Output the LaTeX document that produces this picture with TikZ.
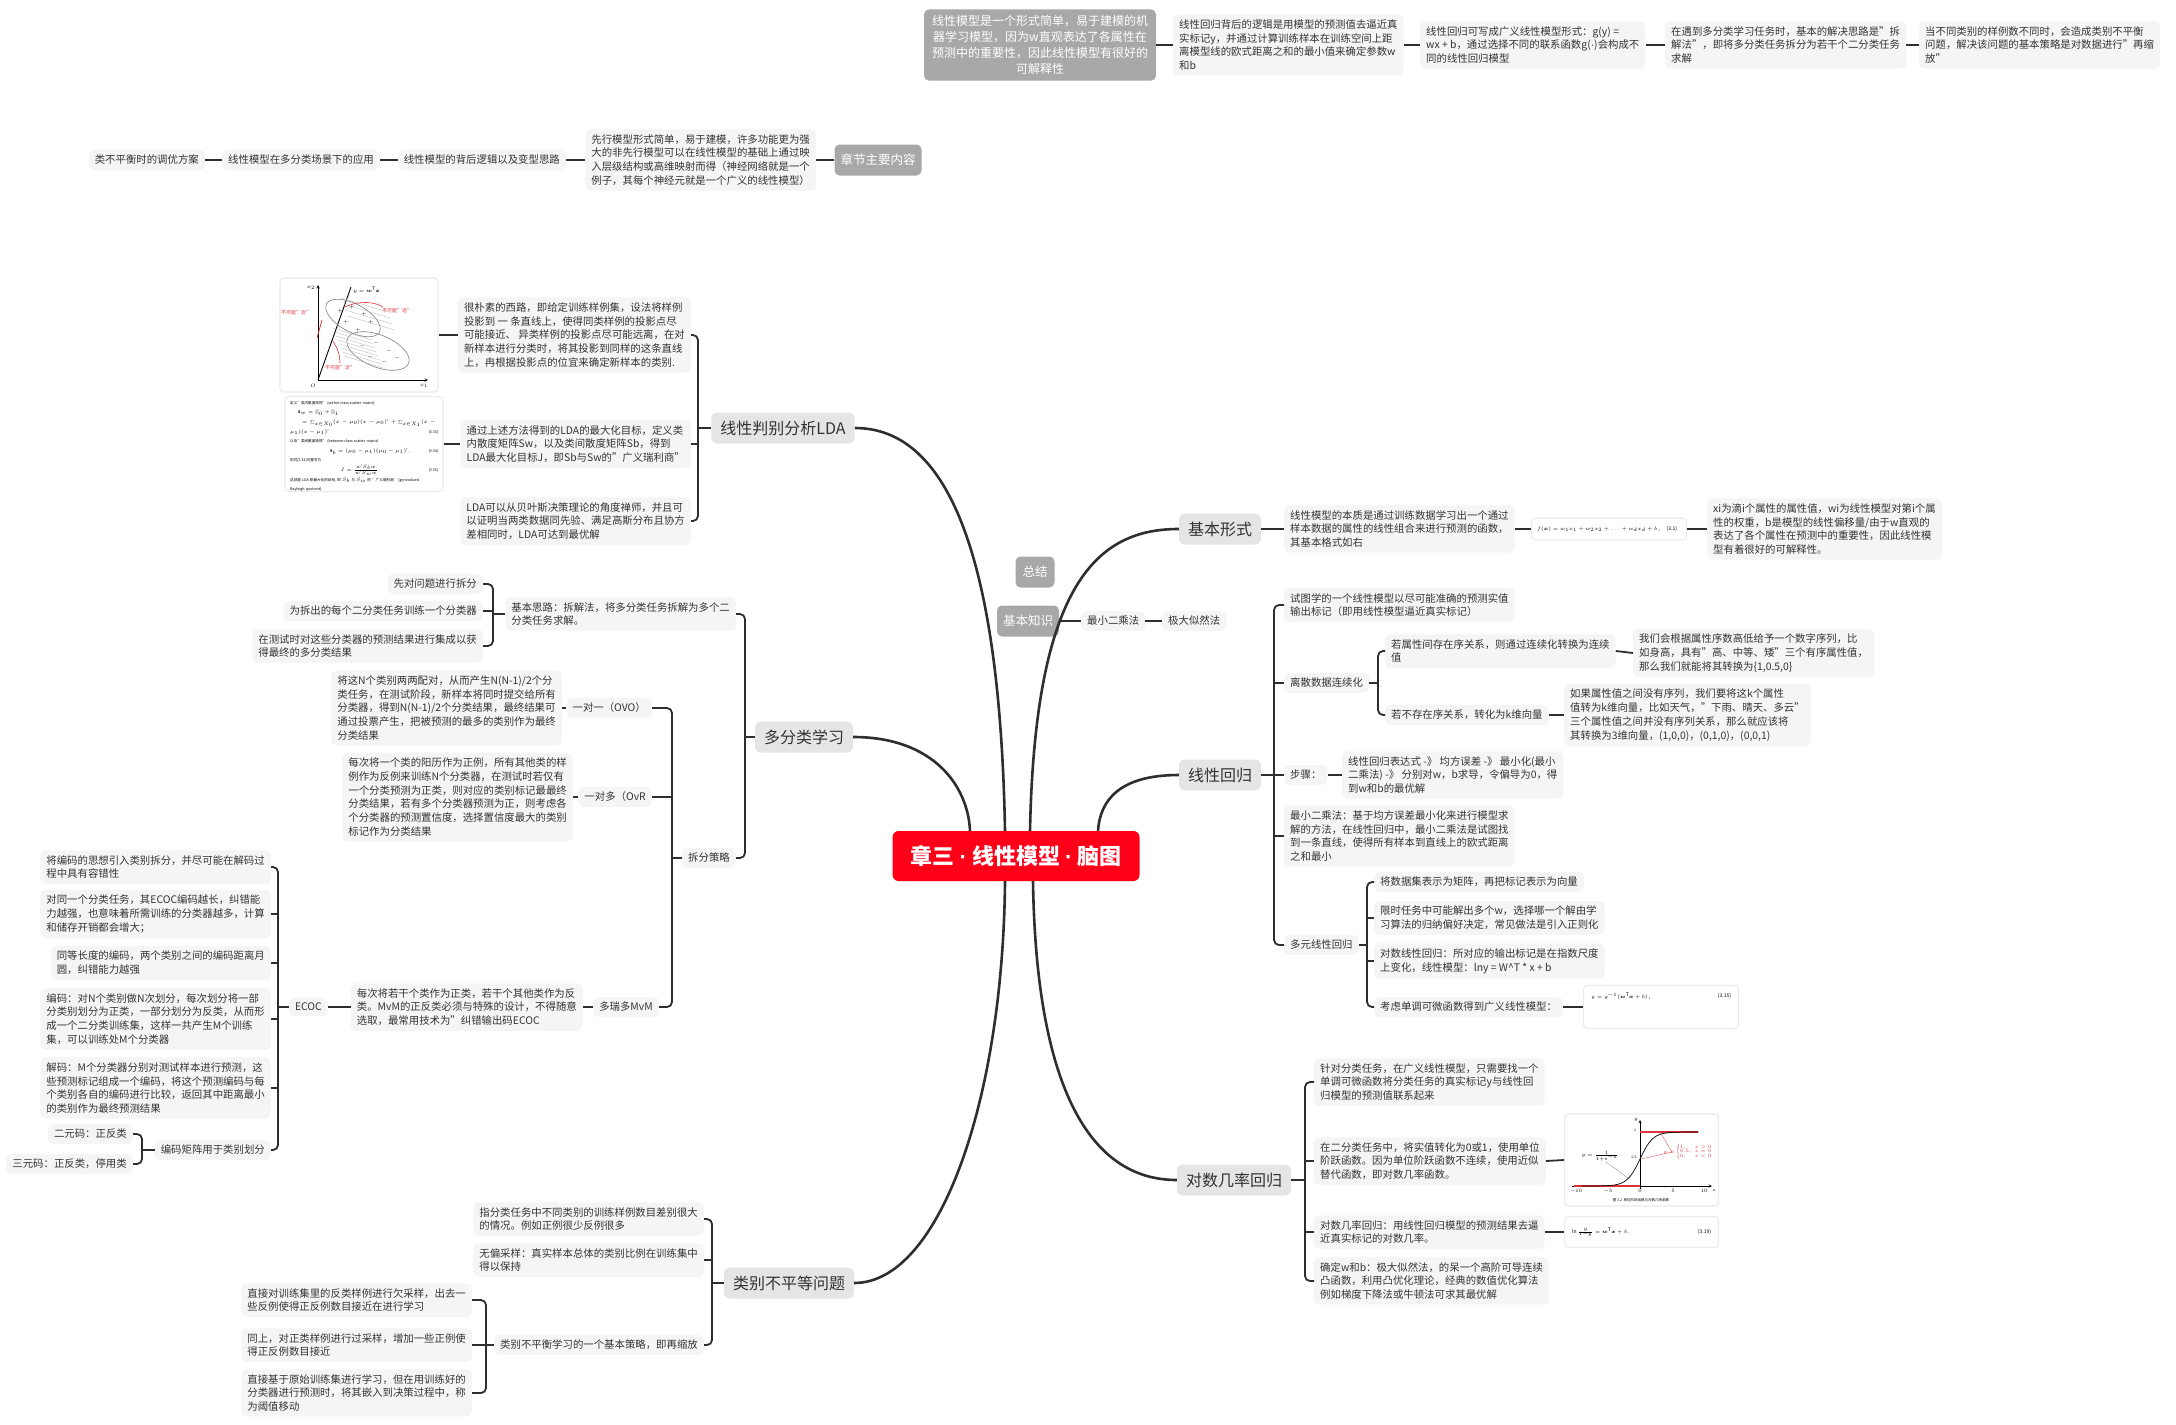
\documentclass[tikz,border=0pt]{standalone}
\usepackage{amsmath}
\usepackage{fontspec}
\setmainfont{Noto Sans CJK SC}
\newfontfamily\latinf{Liberation Sans}
\usetikzlibrary{calc}
\definecolor{linec}{HTML}{2E2E2E}
\definecolor{txt}{HTML}{333333}
\definecolor{subfill}{HTML}{F5F5F5}
\definecolor{mainfill}{HTML}{E5E5E5}
\definecolor{grayfill}{HTML}{A8A8A8}
\definecolor{redc}{HTML}{FF0019}
\definecolor{imgline}{HTML}{EBEBEB}
\definecolor{figred}{HTML}{E0323C}
\tikzset{
  sub/.style={fill=subfill, rounded corners=5pt, align=left, text=txt, font=\fontsize{10.4}{13.8}\selectfont, inner xsep=6pt, inner ysep=5pt},
  mainb/.style={fill=mainfill, rounded corners=6pt, text=txt, font=\fontsize{16}{19}\selectfont, inner xsep=9pt, minimum height=31pt},
  grayb/.style={fill=grayfill, text=white, rounded corners=5pt, font=\fontsize{12.5}{16}\selectfont, inner xsep=6pt, minimum height=31pt},
  imgbox/.style={fill=white, draw=imgline, line width=1.2pt, rounded corners=4pt},
  link/.style={draw=linec, line width=1.8pt},
  brk/.style={draw=linec, line width=1.8pt, rounded corners=5pt},
  branch/.style={draw=linec, line width=2.6pt},
  tinyf/.style={font=\fontsize{5}{6}\selectfont, inner sep=0pt, text=black},
}
\begin{document}
\begin{tikzpicture}[x=1pt,y=-1pt]
\useasboundingbox[fill=white] (0,0) rectangle (2176,1424);

% ---------- root ----------
\node[fill=redc, rounded corners=6pt, text=white, font=\fontsize{22}{26}\selectfont\bfseries, minimum width=247pt, minimum height=50pt] (root) at (1016,856) {章三 {\latinf\bfseries ·} 线性模型 {\latinf\bfseries ·} 脑图};

% ---------- floating ----------
\node[grayb, minimum width=39pt] (zj) at (1035,572) {总结};
\node[grayb] (jbzs) at (1028,621) {基本知识};
\node[sub, anchor=west] (zxec) at (1081,621) {最小二乘法};
\node[sub, anchor=west] (jdsr) at (1162,621) {极大似然法};
\draw[link] (jbzs.east) -- (zxec.west);
\draw[link] (zxec.east) -- (jdsr.west);

% ---------- top row ----------
\node[grayb, align=center, font=\fontsize{12}{16}\selectfont, inner xsep=8pt, inner ysep=6pt] (tA) at (1040,45) {线性模型是一个形式简单，易于建模的机\\器学习模型，因为w直观表达了各属性在\\预测中的重要性，因此线性模型有很好的\\可解释性};
\node[sub, anchor=west] (tB) at (1173,45) {线性回归背后的逻辑是用模型的预测值去逼近真\\实标记y，并通过计算训练样本在训练空间上距\\离模型线的欧式距离之和的最小值来确定参数w\\和b};
\node[sub, anchor=west] (tC) at (1420,45) {线性回归可写成广义线性模型形式：g(y) =\\wx + b，通过选择不同的联系函数g({\latinf ·})会构成不\\同的线性回归模型};
\node[sub, anchor=west] (tD) at (1665,45) {在遇到多分类学习任务时，基本的解决思路是"拆\\解法"，即将多分类任务拆分为若干个二分类任务\\求解};
\node[sub, anchor=west] (tE) at (1919,45) {当不同类别的样例数不同时，会造成类别不平衡\\问题，解决该问题的基本策略是对数据进行"再缩\\放"};
\draw[link] (tA.east) -- (tB.west);
\draw[link] (tB.east) -- (tC.west);
\draw[link] (tC.east) -- (tD.west);
\draw[link] (tD.east) -- (tE.west);

% ---------- second row ----------
\node[grayb] (zjnr) at (878,160) {章节主要内容};
\node[sub, anchor=east] (r2F) at (816,160) {先行模型形式简单，易于建模，许多功能更为强\\大的非先行模型可以在线性模型的基础上通过映\\入层级结构或高维映射而得（神经网络就是一个\\例子，其每个神经元就是一个广义的线性模型）};
\node[sub, anchor=east] (r2G) at (566,160) {线性模型的背后逻辑以及变型思路};
\node[sub, anchor=east] (r2H) at (380,160) {线性模型在多分类场景下的应用};
\node[sub, anchor=east] (r2I) at (205,160) {类不平衡时的调优方案};
\draw[link] (zjnr.west) -- (r2F.east);
\draw[link] (r2F.west) -- (r2G.east);
\draw[link] (r2G.west) -- (r2H.east);
\draw[link] (r2H.west) -- (r2I.east);

% ---------- LDA ----------
\node[mainb] (lda) at (783,428) {线性判别分析LDA};
\coordinate (bL) at (698,0);
\node[sub, anchor=east] (L1) at (691,335) {很朴素的西路，即给定训练样例集，设法将样例\\投影到 一 条直线上，使得同类样例的投影点尽\\可能接近、 异类样例的投影点尽可能远离，在对\\新样本进行分类时，将其投影到同样的这条直线\\上，冉根据投影点的位宜来确定新样本的类别.};
\node[sub, anchor=east] (L2) at (691,444) {通过上述方法得到的LDA的最大化目标，定义类\\内散度矩阵Sw，以及类间散度矩阵Sb，得到\\LDA最大化目标J，即Sb与Sw的"广义瑞利商"};
\node[sub, anchor=east] (L3) at (691,521) {LDA可以从贝叶斯决策理论的角度禅师，并且可\\以证明当两类数据同先验、满足高斯分布且协方\\差相同时，LDA可达到最优解};
\node[imgbox, minimum width=158pt, minimum height=114pt] (img1) at (359,335) {};
\node[imgbox, minimum width=158pt, minimum height=95pt] (img2) at (364,444) {};
\draw[link] (img1.east) -- (L1.west);
\draw[link] (img2.east) -- (L2.west);
\draw[brk] (L1.east) -- (L1.east -| bL) -- (L3.east -| bL) -- (L3.east);
\draw[link] (L2.east) -- (L2.east -| bL);
\draw[link] (lda.west) -- (lda.west -| bL);

% image 1 : LDA sketch
\begin{scope}[line width=0.6pt]
\draw[->, >=stealth] (318,380) -- (318,285);
\draw[->, >=stealth] (318,380) -- (428,380);
\node[tinyf] at (311,288) {$x_2$};
\node[tinyf] at (424,386) {$x_1$};
\node[tinyf] at (313,386) {$O$};
\draw[line width=0.9pt] (318,380) -- (351,287);
\node[tinyf, anchor=west] at (353,290) {$y=\boldsymbol{w}^{\mathrm T}\boldsymbol{x}$};
\draw[gray, rotate around={-28:(353,318)}] (353,318) ellipse [x radius=30pt, y radius=14pt];
\draw[gray, rotate around={-22:(378,351)}] (378,351) ellipse [x radius=33pt, y radius=16pt];
\foreach \k in {0,...,7}
  \draw[gray!60, line width=0.3pt] ({333+\k*1.6},{328+\k*4}) -- ({372+\k*1.6},{340+\k*4});
\foreach \k in {0,...,3}
  \draw[gray!60, line width=0.3pt] ({341+\k*2.2},{298+\k*6}) -- ({388+\k*2.2},{312+\k*6});
\foreach \p in {(340,311),(352,307),(364,314),(346,322),(371,322),(358,330)}
  \node[tinyf] at \p {$+$};
\foreach \p in {(362,346),(376,343),(389,351),(370,357),(384,362),(397,358)}
  \node[tinyf] at \p {$-$};
\draw[figred, line width=0.8pt] (317,338) -- (322,320);
\draw[figred, line width=0.6pt] (345,307) .. controls (360,300) and (375,302) .. (383,307);
\draw[figred, line width=0.6pt] (332,340) .. controls (338,348) and (340,356) .. (340,363);
\node[tinyf, text=figred] at (296,313) {不可能"近"};
\node[tinyf, text=figred] at (397,311) {不可能"远"};
\node[tinyf, text=figred] at (340,368) {不可能"近"};
\end{scope}

% image 2 : formulas
\node[tinyf, font=\fontsize{3.6}{9.6}\selectfont, anchor=north west, align=left, text width=148pt] at (290,401) {定义"类内散度矩阵" (within-class scatter matrix)\\
\hspace*{8pt}$\mathbf{S}_w=\mathbf{\Sigma}_0+\mathbf{\Sigma}_1$\\
\hspace*{12pt}$=\sum_{x\in X_0}(x-\mu_0)(x-\mu_0)^{\mathrm T}+\sum_{x\in X_1}(x-\mu_1)(x-\mu_1)^{\mathrm T}$\hfill(3.33)\\
以及"类间散度矩阵" (between-class scatter matrix)\\
\hspace*{40pt}$\mathbf{S}_b=(\mu_0-\mu_1)(\mu_0-\mu_1)^{\mathrm T}$ ,\hfill(3.34)\\
则式(3.32)可重写为\\
\hspace*{50pt}$J=\frac{w^{\mathrm T}S_bw}{w^{\mathrm T}S_ww}$ .\hfill(3.35)\\
这就是 LDA 欲最大化的目标, 即 $S_b$ 与 $S_w$ 的 "广义瑞利商" (generalized\\
Rayleigh quotient).};

% ---------- multi-class ----------
\node[mainb] (mc) at (804,737) {多分类学习};
\coordinate (bM) at (745,0);
\node[sub, anchor=east] (jbsl) at (736,614) {基本思路：拆解法，将多分类任务拆解为多个二\\分类任务求解。};
\node[sub, anchor=east] (cfcl) at (736,858) {拆分策略};
\draw[brk] (jbsl.east) -- (jbsl.east -| bM) -- (cfcl.east -| bM) -- (cfcl.east);
\draw[link] (mc.west) -- (mc.west -| bM);

\coordinate (bJ) at (493,0);
\node[sub, anchor=east] (j1) at (483,584) {先对问题进行拆分};
\node[sub, anchor=east] (j2) at (483,611) {为拆出的每个二分类任务训练一个分类器};
\node[sub, anchor=east] (j3) at (483,646) {在测试时对这些分类器的预测结果进行集成以获\\得最终的多分类结果};
\draw[brk] (j1.east) -- (j1.east -| bJ) -- (j3.east -| bJ) -- (j3.east);
\draw[link] (j2.east) -- (j2.east -| bJ);
\draw[link] (jbsl.west) -- (jbsl.west -| bJ);

\coordinate (bC) at (672,0);
\node[sub, anchor=east] (ovo) at (652,708) {一对一（OVO）};
\node[sub, anchor=east] (ovr) at (652,797) {一对多（OvR};
\node[sub, anchor=east] (mvm) at (659,1007) {多瑞多MvM};
\draw[brk] (ovo.east) -- (ovo.east -| bC) -- (mvm.east -| bC) -- (mvm.east);
\draw[link] (ovr.east) -- (ovr.east -| bC);
\draw[link] (cfcl.west) -- (cfcl.west -| bC);

\node[sub, anchor=east] (ovot) at (562,708) {将这N个类别两两配对，从而产生N(N-1)/2个分\\类任务，在测试阶段，新样本将同时提交给所有\\分类器，得到N(N-1)/2个分类结果，最终结果可\\通过投票产生，把被预测的最多的类别作为最终\\分类结果};
\node[sub, anchor=east] (ovrt) at (573,797) {每次将一个类的阳历作为正例，所有其他类的样\\例作为反例来训练N个分类器，在测试时若仅有\\一个分类预测为正类，则对应的类别标记最最终\\分类结果，若有多个分类器预测为正，则考虑各\\个分类器的预测置信度，选择置信度最大的类别\\标记作为分类结果};
\node[sub, anchor=east] (mvmt) at (583,1007) {每次将若干个类作为正类，若干个其他类作为反\\类。MvM的正反类必须与特殊的设计，不得随意\\选取，最常用技术为"纠错输出码ECOC};
\draw[link] (ovo.west) -- (ovot.east);
\draw[link] (ovr.west) -- (ovrt.east);
\draw[link] (mvm.west) -- (mvmt.east);

\node[sub, anchor=east] (ecoc) at (328,1007) {ECOC};
\draw[link] (mvmt.west) -- (ecoc.east);
\coordinate (bE) at (278,0);
\node[sub, anchor=east] (E1) at (271,867) {将编码的思想引入类别拆分，并尽可能在解码过\\程中具有容错性};
\node[sub, anchor=east] (E2) at (271,914) {对同一个分类任务，其ECOC编码越长，纠错能\\力越强，也意味着所需训练的分类器越多，计算\\和储存开销都会增大；};
\node[sub, anchor=east] (E3) at (271,963) {同等长度的编码，两个类别之间的编码距离月\\圆，纠错能力越强};
\node[sub, anchor=east] (E4) at (271,1019) {编码：对N个类别做N次划分，每次划分将一部\\分类别划分为正类，一部分划分为反类，从而形\\成一个二分类训练集，这样一共产生M个训练\\集，可以训练处M个分类器};
\node[sub, anchor=east] (E5) at (271,1088) {解码：M个分类器分别对测试样本进行预测，这\\些预测标记组成一个编码，将这个预测编码与每\\个类别各自的编码进行比较，返回其中距离最小\\的类别作为最终预测结果};
\node[sub, anchor=east] (E6) at (271,1150) {编码矩阵用于类别划分};
\draw[brk] (E1.east) -- (E1.east -| bE) -- (E6.east -| bE) -- (E6.east);
\foreach \n in {E2,E3,E4,E5} \draw[link] (\n.east) -- (\n.east -| bE);
\draw[link] (ecoc.west) -- (ecoc.west -| bE);
\coordinate (bE6) at (142,0);
\node[sub, anchor=east] (ey) at (133,1134) {二元码：正反类};
\node[sub, anchor=east] (es) at (133,1164) {三元码：正反类，停用类};
\draw[brk] (ey.east) -- (ey.east -| bE6) -- (es.east -| bE6) -- (es.east);
\draw[link] (E6.west) -- (E6.west -| bE6);

% ---------- imbalance ----------
\node[mainb] (imb) at (789,1283) {类别不平等问题};
\coordinate (bI) at (712,0);
\node[sub, anchor=east] (i1) at (704,1219) {指分类任务中不同类别的训练样例数目差别很大\\的情况。例如正例很少反例很多};
\node[sub, anchor=east] (i2) at (704,1260) {无偏采样：真实样本总体的类别比例在训练集中\\得以保持};
\node[sub, anchor=east] (i3) at (704,1345) {类别不平衡学习的一个基本策略，即再缩放};
\draw[brk] (i1.east) -- (i1.east -| bI) -- (i3.east -| bI) -- (i3.east);
\draw[link] (i2.east) -- (i2.east -| bI);
\draw[link] (imb.west) -- (imb.west -| bI);
\coordinate (bI3) at (486,0);
\node[sub, anchor=east] (i3a) at (472,1300) {直接对训练集里的反类样例进行欠采样，出去一\\些反例使得正反例数目接近在进行学习};
\node[sub, anchor=east] (i3b) at (472,1345) {同上，对正类样例进行过采样，增加一些正例使\\得正反例数目接近};
\node[sub, anchor=east] (i3c) at (472,1393) {直接基于原始训练集进行学习，但在用训练好的\\分类器进行预测时，将其嵌入到决策过程中，称\\为阈值移动};
\draw[brk] (i3a.east) -- (i3a.east -| bI3) -- (i3c.east -| bI3) -- (i3c.east);
\draw[link] (i3b.east) -- (i3b.east -| bI3);
\draw[link] (i3.west) -- (i3.west -| bI3);

% ---------- basic form ----------
\node[mainb] (jbxs) at (1220,529) {基本形式};
\node[sub, anchor=west] (bf1) at (1284,529) {线性模型的本质是通过训练数据学习出一个通过\\样本数据的属性的线性组合来进行预测的函数，\\其基本格式如右};
\node[imgbox, minimum width=155pt, minimum height=22pt, anchor=west] (bf2) at (1531,529) {};
\node[tinyf, anchor=west] at ($(bf2.west)+(6,0)$) {$f(\boldsymbol{x})=w_1x_1+w_2x_2+\ldots+w_dx_d+b$ ,};
\node[tinyf, anchor=east] at ($(bf2.east)+(-10,0)$) {(3.1)};
\node[sub, anchor=west] (bf3) at (1707,529) {xi为滴i个属性的属性值，wi为线性模型对第i个属\\性的权重，b是模型的线性偏移量/由于w直观的\\表达了各个属性在预测中的重要性，因此线性模\\型有着很好的可解释性。};
\draw[link] (jbxs.east) -- (bf1.west);
\draw[link] (bf1.east) -- (bf2.west);
\draw[link] (bf2.east) -- (bf3.west);

% ---------- linear regression ----------
\node[mainb] (lr) at (1220,775) {线性回归};
\coordinate (bR) at (1274,0);
\node[sub, anchor=west] (R1) at (1284,605) {试图学的一个线性模型以尽可能准确的预测实值\\输出标记（即用线性模型逼近真实标记）};
\node[sub, anchor=west] (R2) at (1284,683) {离散数据连续化};
\node[sub, anchor=west] (R3) at (1284,775) {步骤：};
\node[sub, anchor=west] (R4) at (1284,836) {最小二乘法：基于均方误差最小化来进行模型求\\解的方法，在线性回归中，最小二乘法是试图找\\到一条直线，使得所有样本到直线上的欧式距离\\之和最小};
\node[sub, anchor=west] (R5) at (1284,945) {多元线性回归};
\draw[brk] (R1.west) -- (R1.west -| bR) -- (R5.west -| bR) -- (R5.west);
\foreach \n in {R2,R3,R4} \draw[link] (\n.west) -- (\n.west -| bR);
\draw[link] (lr.east) -- (lr.east -| bR);

\coordinate (bR2) at (1378,0);
\node[sub, anchor=west] (R2a) at (1385,651) {若属性间存在序关系，则通过连续化转换为连续\\值};
\node[sub, anchor=west] (R2b) at (1385,715) {若不存在序关系，转化为k维向量};
\draw[brk] (R2a.west) -- (R2a.west -| bR2) -- (R2b.west -| bR2) -- (R2b.west);
\draw[link] (R2.east) -- (R2.east -| bR2);
\node[sub, anchor=west] (R2a1) at (1633,653) {我们会根据属性序数高低给予一个数字序列，比\\如身高，具有"高、中等、矮"三个有序属性值，\\那么我们就能将其转换为\{1,0.5,0\}};
\node[sub, anchor=west] (R2b1) at (1564,715) {如果属性值之间没有序列，我们要将这k个属性\\值转为k维向量，比如天气，"下雨、晴天、多云"\\三个属性值之间并没有序列关系，那么就应该将\\其转换为3维向量，(1,0,0)，(0,1,0)，(0,0,1)};
\draw[link] (R2a.east) -- (R2a1.west);
\draw[link] (R2b.east) -- (R2b1.west);

\node[sub, anchor=west] (R3a) at (1342,775) {线性回归表达式 -》 均方误差 -》 最小化(最小\\二乘法) -》 分别对w，b求导，令偏导为0，得\\到w和b的最优解};
\draw[link] (R3.east) -- (R3a.west);

\coordinate (bR5) at (1367,0);
\node[sub, anchor=west] (R5a) at (1374,882) {将数据集表示为矩阵，再把标记表示为向量};
\node[sub, anchor=west] (R5b) at (1374,918) {限时任务中可能解出多个w，选择哪一个解由学\\习算法的归纳偏好决定，常见做法是引入正则化};
\node[sub, anchor=west] (R5c) at (1374,961) {对数线性回归：所对应的输出标记是在指数尺度\\上变化，线性模型：lny = W\textasciicircum T * x + b};
\node[sub, anchor=west] (R5d) at (1374,1007) {考虑单调可微函数得到广义线性模型：};
\draw[brk] (R5a.west) -- (R5a.west -| bR5) -- (R5d.west -| bR5) -- (R5d.west);
\draw[link] (R5b.west) -- (R5b.west -| bR5);
\draw[link] (R5c.west) -- (R5c.west -| bR5);
\draw[link] (R5.east) -- (R5.east -| bR5);
\node[imgbox, anchor=west, minimum width=155pt, minimum height=43pt] (R5d1) at (1583,1007) {};
\node[tinyf, anchor=west] at ($(R5d1.north west)+(8,11)$) {$y=g^{-1}(\boldsymbol{w}^{\mathrm T}\boldsymbol{x}+b)$ ,};
\node[tinyf, anchor=east] at ($(R5d1.north east)+(-8,11)$) {(3.15)};
\draw[link] (R5d.east) -- (R5d1.west);

% ---------- log odds ----------
\node[mainb] (lo) at (1234,1180) {对数几率回归};
\coordinate (bO) at (1305,0);
\node[sub, anchor=west] (O1) at (1314,1082) {针对分类任务，在广义线性模型，只需要找一个\\单调可微函数将分类任务的真实标记y与线性回\\归模型的预测值联系起来};
\node[sub, anchor=west] (O2) at (1314,1161) {在二分类任务中，将实值转化为0或1，使用单位\\阶跃函数。因为单位阶跃函数不连续，使用近似\\替代函数，即对数几率函数。};
\node[sub, anchor=west] (O3) at (1314,1232) {对数几率回归：用线性回归模型的预测结果去逼\\近真实标记的对数几率。};
\node[sub, anchor=west] (O4) at (1314,1281) {确定w和b：极大似然法，的呆一个高阶可导连续\\凸函数，利用凸优化理论，经典的数值优化算法\\例如梯度下降法或牛顿法可求其最优解};
\draw[brk] (O1.west) -- (O1.west -| bO) -- (O4.west -| bO) -- (O4.west);
\draw[link] (O2.west) -- (O2.west -| bO);
\draw[link] (O3.west) -- (O3.west -| bO);
\draw[link] (lo.east) -- (lo.east -| bO);

\node[imgbox, anchor=west, minimum width=154pt, minimum height=92pt] (sig) at (1564,1160) {};
\node[imgbox, anchor=west, minimum width=154pt, minimum height=31pt] (lnf) at (1564,1232) {};
\draw[link] (O2.east) -- (sig.west);
\draw[link] (O3.east) -- (lnf.west);
\node[tinyf, anchor=west] at ($(lnf.west)+(8,0)$) {$\ln\frac{y}{1-y}=\boldsymbol{w}^{\mathrm T}\boldsymbol{x}+b$ .};
\node[tinyf, anchor=east] at ($(lnf.east)+(-8,0)$) {(3.19)};

% sigmoid sketch
\begin{scope}[line width=0.5pt]
\draw[->, >=stealth] (1572,1186) -- (1712,1186);
\draw[->, >=stealth] (1640,1189) -- (1640,1120);
\draw[figred, line width=1.3pt] (1574,1186) -- (1640,1186);
\draw[figred, line width=1.3pt] (1640,1132) -- (1698,1132);
\draw[line width=0.7pt] plot[domain=-9:9, samples=60] ({1640+6.5*\x},{1186-54/(1+exp(-\x))});
\node[tinyf, font=\fontsize{3.5}{4}\selectfont] at (1576,1191) {$-10$};
\node[tinyf, font=\fontsize{3.5}{4}\selectfont] at (1608,1191) {$-5$};
\node[tinyf, font=\fontsize{3.5}{4}\selectfont] at (1640,1191) {$0$};
\node[tinyf, font=\fontsize{3.5}{4}\selectfont] at (1673,1191) {$5$};
\node[tinyf, font=\fontsize{3.5}{4}\selectfont] at (1704,1191) {$10$};
\node[tinyf, font=\fontsize{3.5}{4}\selectfont] at (1714,1190) {$z$};
\node[tinyf, font=\fontsize{3.5}{4}\selectfont] at (1636,1120) {$y$};
\node[tinyf, font=\fontsize{3.5}{4}\selectfont] at (1635,1130) {1};
\node[tinyf, font=\fontsize{3.5}{4}\selectfont] at (1634,1157) {0.5};
\node[tinyf] at (1600,1156) {$y=\frac{1}{1+e^{-z}}$};
\node[tinyf, text=figred, font=\fontsize{3.5}{4}\selectfont] at (1688,1152) {$y=\begin{cases}1, & z>0\\ 0.5, & z=0\\ 0, & z<0\end{cases}$};
\draw[figred, line width=0.3pt] (1672,1152) -- (1641,1159);
\draw[figred, line width=0.3pt] (1672,1152) -- (1660,1132);
\draw[gray, line width=0.3pt] (1606,1162) -- (1628,1178);
\node[tinyf, font=\fontsize{3.5}{4}\selectfont] at (1641,1200) {图 3.2\ \ 单位阶跃函数与对数几率函数};
\end{scope}

% ---------- main curved branches ----------
\draw[branch] (mc.east) .. controls +(80,0) and +(-2,-45) .. ($(root.north)+(-46,0)$);
\draw[branch] (lda.east) .. controls +(95,0) and +(-5,-270) .. ($(root.north)+(-11,0)$);
\draw[branch] (jbxs.west) .. controls +(-80,0) and +(5,-250) .. ($(root.north)+(14,0)$);
\draw[branch] (lr.west) .. controls +(-60,0) and +(2,-30) .. ($(root.north)+(82,0)$);
\draw[branch] (imb.east) .. controls +(85,0) and +(-2,220) .. ($(root.south)+(-11,0)$);
\draw[branch] (lo.west) .. controls +(-90,0) and +(3,200) .. ($(root.south)+(17,0)$);
\end{tikzpicture}
\end{document}
